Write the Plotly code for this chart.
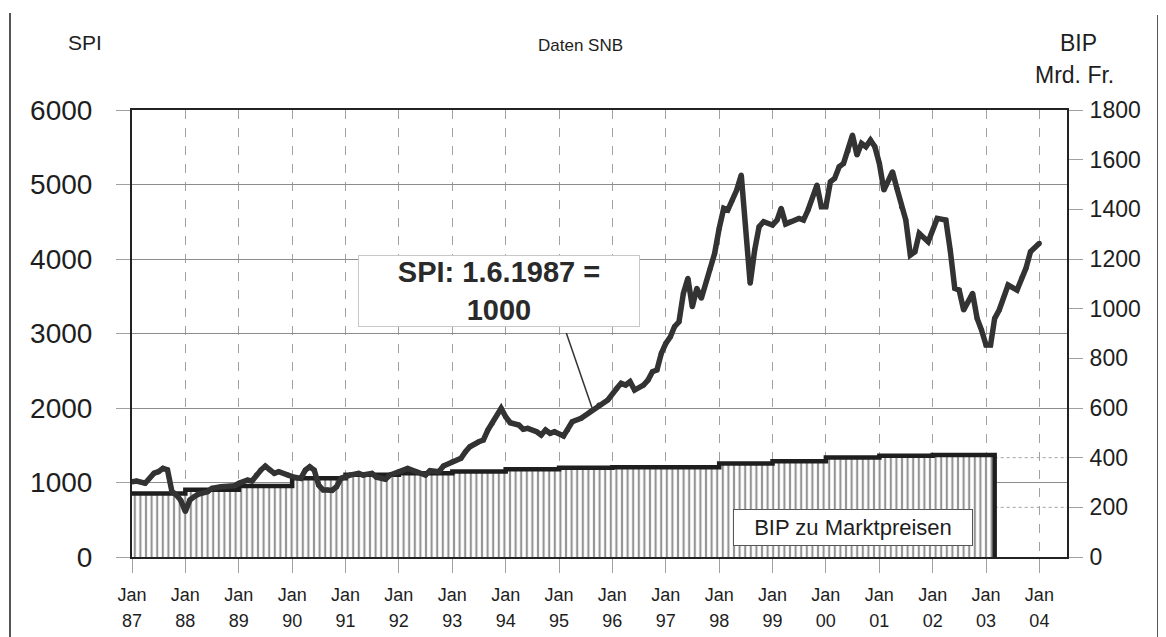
import plotly.graph_objects as go

# ---------------- data ----------------
spi_dates = [
    "1987-01", "1987-02", "1987-04", "1987-06", "1987-07", "1987-08", "1987-09", "1987-10",
    "1987-11", "1987-12", "1988-01", "1988-02", "1988-03", "1988-04", "1988-06", "1988-07",
    "1988-09", "1988-10", "1988-12", "1989-01", "1989-03", "1989-04", "1989-05", "1989-06",
    "1989-07", "1989-08", "1989-09", "1989-10", "1989-12", "1990-01", "1990-03", "1990-04",
    "1990-05", "1990-06", "1990-07", "1990-08", "1990-09", "1990-10", "1990-11", "1990-12",
    "1991-02", "1991-04", "1991-05", "1991-07", "1991-08", "1991-10", "1991-11", "1992-01",
    "1992-03", "1992-05", "1992-07", "1992-08", "1992-10", "1992-11", "1993-01", "1993-03",
    "1993-04", "1993-05", "1993-07", "1993-08", "1993-09", "1993-10", "1993-12", "1994-01",
    "1994-02", "1994-04", "1994-05", "1994-06", "1994-08", "1994-09", "1994-10", "1994-11",
    "1994-12", "1995-02", "1995-03", "1995-04", "1995-06", "1995-08", "1995-10", "1995-12",
    "1996-02", "1996-03", "1996-04", "1996-05", "1996-06", "1996-08", "1996-09", "1996-10",
    "1996-11", "1996-12", "1997-01", "1997-02", "1997-03", "1997-04", "1997-05", "1997-06",
    "1997-07", "1997-08", "1997-09", "1997-11", "1997-12", "1998-01", "1998-02", "1998-03",
    "1998-04", "1998-05", "1998-06", "1998-07", "1998-08", "1998-09", "1998-10", "1998-11",
    "1999-01", "1999-02", "1999-03", "1999-04", "1999-05", "1999-07", "1999-08", "1999-09",
    "1999-11", "1999-12", "2000-01", "2000-02", "2000-03", "2000-04", "2000-05", "2000-06",
    "2000-07", "2000-08", "2000-09", "2000-10", "2000-11", "2000-12", "2001-01", "2001-02",
    "2001-04", "2001-05", "2001-06", "2001-07", "2001-08", "2001-09", "2001-10", "2001-12",
    "2002-02", "2002-04", "2002-05", "2002-06", "2002-07", "2002-08", "2002-10", "2002-11",
    "2002-12", "2003-01", "2003-02", "2003-03", "2003-04", "2003-06", "2003-08", "2003-09",
    "2003-10", "2003-11", "2004-01",
]
spi_values = [
    1010, 1020, 990, 1125, 1145, 1190, 1170, 880,
    832, 760, 610, 765, 810, 845, 876, 922,
    943, 943, 955, 989, 1033, 1020, 1100, 1167,
    1221, 1167, 1123, 1145, 1100, 1078, 1056, 1167,
    1212, 1167, 966, 899, 899, 893, 943, 1056,
    1100, 1123, 1100, 1123, 1070, 1043, 1100, 1145,
    1190, 1145, 1100, 1158, 1145, 1221, 1279, 1324,
    1413, 1480, 1547, 1570, 1704, 1794, 1995, 1883,
    1802, 1771, 1714, 1727, 1682, 1637, 1704, 1660,
    1682, 1624, 1704, 1816, 1861, 1950, 2040, 2107,
    2264, 2331, 2308, 2353, 2241, 2308, 2375, 2487,
    2510, 2734, 2868, 2957, 3091, 3158, 3539, 3740,
    3359, 3606, 3472, 3874, 4076, 4411, 4680, 4657,
    4791, 4925, 5126, 4450, 3673, 4120, 4433, 4500,
    4455, 4523, 4680, 4469, 4500, 4545, 4523, 4657,
    4992, 4701, 4701, 5036, 5082, 5238, 5283, 5450,
    5663, 5395, 5552, 5507, 5596, 5507, 5283, 4925,
    5171, 4948, 4701, 4523, 4053, 4097, 4344, 4232,
    4545, 4523, 4120, 3606, 3583, 3315, 3539, 3203,
    3046, 2845, 2845, 3203, 3315, 3650, 3583, 3740,
    3874, 4097, 4210,
]

bip_years = ["1987-01-01", "1988-01-01", "1989-01-01", "1990-01-01", "1991-01-01",
             "1992-01-01", "1993-01-01", "1994-01-01", "1995-01-01", "1996-01-01",
             "1997-01-01", "1998-01-01", "1999-01-01", "2000-01-01", "2001-01-01",
             "2002-01-01"]
bip_values = [256, 271, 286, 317, 331, 337, 344, 353, 359, 361,
              361, 377, 386, 401, 408, 411]
bip_end = "2003-03-01"

x_years = list(range(1987, 2005))
x_tickvals = [f"{y}-01-01" for y in x_years]
x_month_text = ["Jan" for y in x_years]
x_year_text = [f"{y % 100:02d}" for y in x_years]
x_range = ["1987-01-01", "2004-07-08"]
spi_ticks = [0, 1000, 2000, 3000, 4000, 5000, 6000]
bip_ticks = [0, 200, 400, 600, 800, 1000, 1200, 1400, 1600, 1800]
bip_right_grid = [200, 400]

# annotation leader line (data coords)
lead_from = ("1995-02-20", 3006)
lead_to = ("1995-08-20", 1973)

# ---------------- layout geometry ----------------
OFF = 8                      # page body margin of the browser
PAGE_W, PAGE_H = 1166, 637
PL, PR, PT, PB = 132, 1067, 110, 557   # plot area in page pixels
W, H = PAGE_W - OFF, PAGE_H - OFF
L, T = PL - OFF, PT - OFF
R, B = W - (PR - OFF), H - (PB - OFF)
FONT = "Liberation Sans, Arial, Helvetica, sans-serif"
INK = "#1e1e1e"


def px(xp):
    return (xp - PL) / (PR - PL)


def py(yp):
    return 1 - (yp - PT) / (PB - PT)


fig = go.Figure()

# BIP: stepped, hatched area (main y axis, right side)
fig.add_trace(go.Scatter(
    x=bip_years + [bip_end, bip_end],
    y=bip_values + [bip_values[-1], 0],
    xaxis="x", yaxis="y",
    mode="lines",
    line=dict(color="#1e1e1e", width=4.5, shape="hv"),
    fill="tozeroy",
    fillcolor="white",
    fillpattern=dict(shape="|", fgcolor="#2a2a2a", bgcolor="white", size=5.6, solidity=0.38),
    hoverinfo="skip",
    showlegend=False,
))

# SPI line (overlaid axes, drawn on top)
fig.add_trace(go.Scatter(
    x=spi_dates,
    y=spi_values,
    xaxis="x2", yaxis="y2",
    mode="lines+markers",
    line=dict(color="#333", width=5.5),
    marker=dict(size=5, color="#333"),
    showlegend=False,
))

fig.update_layout(
    width=W, height=H,
    margin=dict(l=L, r=R, t=T, b=B, pad=0, autoexpand=False),
    paper_bgcolor="white",
    plot_bgcolor="white",
    font=dict(family=FONT, color=INK),
    showlegend=False,
    xaxis=dict(
        type="date",
        range=x_range,
        automargin=False,
        tickmode="array",
        tickvals=x_tickvals,
        ticktext=x_month_text,
        tickfont=dict(size=18, color=INK),
        ticks="outside", ticklen=14, tickcolor="#a0a0a0", tickwidth=1,
        ticklabelstandoff=6,
        showgrid=True, gridcolor="#a0a0a0", gridwidth=1, griddash="dash",
        showline=True, linecolor="#222", linewidth=2, mirror=True,
        zeroline=False,
    ),
    xaxis2=dict(
        type="date",
        range=x_range,
        automargin=False,
        overlaying="x",
        anchor="y",
        side="bottom",
        tickmode="array",
        tickvals=x_tickvals,
        ticktext=x_year_text,
        tickfont=dict(size=18, color=INK),
        ticks="outside", ticklen=14, tickcolor="rgba(0,0,0,0)",
        ticklabelstandoff=33,
        showgrid=False, showline=False, zeroline=False,
    ),
    yaxis=dict(
        range=[0, 1800],
        automargin=False,
        side="right",
        tickmode="array",
        tickvals=bip_ticks,
        tickfont=dict(size=23, color=INK),
        ticks="outside", ticklen=14, tickcolor="#a0a0a0", tickwidth=1,
        ticklabelstandoff=2,
        showgrid=False,
        showline=True, linecolor="#222", linewidth=2,
        zeroline=False,
    ),
    yaxis2=dict(
        range=[0, 6000],
        automargin=False,
        overlaying="y",
        side="left",
        anchor="x",
        tickmode="array",
        tickvals=spi_ticks,
        tickfont=dict(size=28, color=INK),
        ticks="outside", ticklen=14, tickcolor="#a0a0a0", tickwidth=1,
        ticklabelstandoff=18,
        showgrid=True, gridcolor="#8c8c8c", gridwidth=1,
        showline=True, linecolor="#222", linewidth=2,
        zeroline=False,
    ),
)

shapes = [
    # leader line from the SPI note to the curve
    dict(type="line", xref="x2", yref="y2",
         x0=lead_from[0], y0=lead_from[1], x1=lead_to[0], y1=lead_to[1],
         line=dict(color="#333", width=1.5)),
    # scanned page frame
    dict(type="line", xref="paper", yref="paper", x0=px(10), x1=px(10), y0=py(13), y1=py(640),
         line=dict(color="#555", width=2)),
    dict(type="line", xref="paper", yref="paper", x0=px(1158), x1=px(1158), y0=py(15), y1=py(640),
         line=dict(color="#555", width=2)),
]
# BIP gridlines visible only to the right of the hatched area
for g in bip_right_grid:
    shapes.append(dict(type="line", xref="x", yref="y", x0=bip_end, x1=x_range[1], y0=g, y1=g,
                       line=dict(color="#a0a0a0", width=1, dash="dot"), layer="below"))
fig.update_layout(shapes=shapes)

ann = [
    dict(text="SPI", x=px(85), y=py(43), font=dict(size=21, color=INK)),
    dict(text="Daten SNB", x=px(580), y=py(45), font=dict(size=17, color=INK)),
    dict(text="BIP", x=px(1078), y=py(43), font=dict(size=23, color=INK)),
    dict(text="Mrd. Fr.", x=px(1074), y=py(75), font=dict(size=23, color=INK)),
    dict(text="<b>SPI: 1.6.1987 =<br>1000</b>", x=px(499), y=py(291),
         font=dict(size=29, color="#2a2a2a"), bgcolor="white",
         bordercolor="#c8c8c8", borderwidth=1, width=274, height=64, borderpad=3,
         align="center"),
    dict(text="BIP zu Marktpreisen", x=px(852.7), y=py(527),
         font=dict(size=22, color=INK), bgcolor="white",
         bordercolor="#555", borderwidth=1, width=234, height=31, borderpad=2,
         align="center"),
]
for a in ann:
    a.update(xref="paper", yref="paper", showarrow=False, xanchor="center", yanchor="middle")
fig.update_layout(annotations=ann)

fig.write_html("out.html")
